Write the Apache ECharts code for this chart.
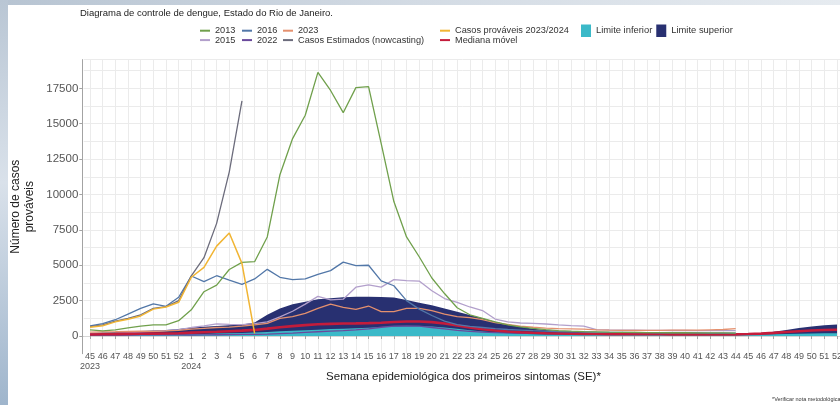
<!DOCTYPE html>
<html>
<head>
<meta charset="utf-8">
<script src="https://cdn.jsdelivr.net/npm/echarts@6/dist/echarts.min.js"></script>
<style>
  html, body { margin: 0; padding: 0; background: #ffffff; }
  #chart { width: 840px; height: 405px; }
</style>
</head>
<body>
<div id="chart"></div>
<script>
// Epidemiological weeks shown on the x axis: 45-52 of 2023, then 1-52 of 2024
const weekKeys = [
  '2023-45','2023-46','2023-47','2023-48','2023-49','2023-50','2023-51','2023-52',
  '2024-1','2024-2','2024-3','2024-4','2024-5','2024-6','2024-7','2024-8','2024-9','2024-10',
  '2024-11','2024-12','2024-13','2024-14','2024-15','2024-16','2024-17','2024-18','2024-19','2024-20',
  '2024-21','2024-22','2024-23','2024-24','2024-25','2024-26','2024-27','2024-28','2024-29','2024-30',
  '2024-31','2024-32','2024-33','2024-34','2024-35','2024-36','2024-37','2024-38','2024-39','2024-40',
  '2024-41','2024-42','2024-43','2024-44','2024-45','2024-46','2024-47','2024-48','2024-49','2024-50',
  '2024-51','2024-52'
];

// Y axis tick labels
const yTickValues = [0, 2500, 5000, 7500, 10000, 12500, 15000, 17500];

// Control band (week 45/2023 .. week 52/2024)
const limiteSuperior = [
  220, 250, 280, 320, 360, 390, 430, 500,
  600, 660, 710, 760, 820, 950, 1500, 1950, 2250, 2420, 2600, 2660,
  2730, 2780, 2780, 2750, 2720, 2550, 2350, 2180, 1950, 1720,
  1480, 1250, 1000, 800, 650, 520, 420, 350, 300, 260,
  230, 210, 200, 190, 180, 175, 170, 165, 160, 155,
  150, 150, 170, 220, 300, 420, 560, 680, 760, 820
];
const limiteInferior = [
  50, 55, 60, 70, 80, 90, 100, 110,
  130, 150, 170, 190, 220, 250, 290, 330, 370, 410, 450, 490,
  520, 550, 590, 630, 670, 690, 690, 670, 610, 510,
  410, 320, 250, 200, 160, 130, 110, 100, 90, 85,
  80, 80, 75, 75, 70, 70, 70, 70, 70, 70,
  70, 70, 80, 100, 120, 140, 160, 175, 190, 200
];
const medianaMovel = [
  110, 120, 130, 150, 160, 170, 180, 200,
  240, 270, 300, 340, 380, 430, 520, 620, 700, 770, 830, 860,
  880, 890, 910, 940, 990, 1030, 1030, 980, 880, 740,
  600, 480, 390, 320, 270, 230, 200, 180, 160, 150,
  140, 135, 130, 125, 120, 120, 115, 115, 110, 110,
  110, 115, 140, 170, 220, 280, 340, 390, 420, 440
];

// Past seasons (week 45 .. week 44)
const s2013 = [
  430, 360, 440, 580, 700, 780, 780, 1080,
  1850, 3130, 3600, 4700, 5200, 5250, 7000, 11400, 13950, 15600, 18630, 17350,
  15780, 17550, 17620, 13600, 9500, 7000, 5600, 4100, 3000, 2000,
  1500, 1250, 1000, 780, 650, 540, 450, 380, 340, 310,
  290, 270, 260, 250, 240, 240, 230, 230, 220, 220,
  220, 210
];
const s2015 = [
  150, 170, 200, 240, 280, 320, 380, 450,
  600, 720, 860, 820, 800, 880, 1000, 1350, 1750, 2250, 2800, 2550,
  2600, 3450, 3620, 3450, 3980, 3920, 3880, 3200, 2650, 2380,
  2050, 1800, 1200, 1000, 920, 890, 850, 780, 730, 700,
  450, 430, 420, 410, 400, 400, 390, 390, 380, 380,
  380, 380
];
const s2016 = [
  720, 870, 1150, 1550, 1950, 2270, 2100, 2740,
  4240, 3840, 4260, 3950, 3650, 4030, 4710, 4150, 3980, 4030, 4350, 4620,
  5220, 4970, 5000, 3900, 3550, 2500, 1900, 1450, 1050, 800,
  680, 600, 520, 460, 420, 380, 350, 320, 300, 290,
  270, 260, 250, 240, 240, 230, 230, 220, 220, 210,
  210, 200
];
const s2022 = [
  60, 60, 70, 70, 80, 80, 80, 80,
  70, 80, 90, 100, 110, 120, 140, 170, 200, 250, 300, 340,
  380, 430, 500, 620, 700, 720, 700, 600, 500, 400,
  330, 280, 240, 220, 200, 190, 180, 170, 165, 160,
  160, 160, 160, 160, 160, 160, 160, 160, 160, 160,
  160, 160
];
const s2023 = [
  280, 290, 300, 320, 340, 330, 360, 400,
  480, 540, 600, 630, 700, 780, 900, 1250, 1370, 1600, 1950, 2250,
  2030, 1880, 2120, 1720, 1720, 1950, 1950, 1790, 1550, 1370,
  1300, 1150, 950, 820, 700, 620, 560, 520, 500, 480,
  430, 410, 400, 390, 400, 400, 410, 410, 420, 440,
  460, 520
];

// Current season
const casosEstimados = [660, 780, 1050, 1250, 1500, 1950, 2080, 2500, 4250, 5530, 7960, 11600, 16620];
const casosProvaveis = [620, 720, 1000, 1180, 1420, 1900, 2050, 2380, 4150, 4850, 6350, 7280, 5130, 190];

const FONT = '"Liberation Sans", Arial, Helvetica, sans-serif';
const GRID_COLOR = '#ebebeb';

function lineSeries(name, data, color, width) {
  return {
    name, type: 'line', data, symbol: 'none', smooth: false,
    lineStyle: { color, width },
    itemStyle: { color },
    emphasis: { disabled: true },
    silent: true
  };
}
function bandSeries(name, data, color) {
  return {
    name, type: 'line', data, symbol: 'none',
    lineStyle: { width: 0, color },
    itemStyle: { color },
    areaStyle: { color, opacity: 1 },
    emphasis: { disabled: true },
    silent: true
  };
}

const chart = echarts.init(document.getElementById('chart'), null, { renderer: 'canvas' });

const legendLine = {
  orient: 'vertical', icon: 'rect', itemWidth: 10, itemHeight: 2, itemGap: 0, padding: 0,
  top: 26, selectedMode: false,
  textStyle: { fontFamily: FONT, fontSize: 9.2, color: '#333', lineHeight: 9.4 }
};

chart.setOption({
  animation: false,
  backgroundColor: '#ffffff',
  textStyle: { fontFamily: FONT },
  title: {
    text: 'Diagrama de controle de dengue, Estado do Rio de Janeiro.',
    left: 80, top: 8, padding: 0,
    textStyle: { fontFamily: FONT, fontSize: 9.5, fontWeight: 'normal', color: '#222' }
  },
  legend: [
    Object.assign({}, legendLine, { left: 200, data: ['2013', '2015'] }),
    Object.assign({}, legendLine, { left: 242, data: ['2016', '2022'] }),
    Object.assign({}, legendLine, { left: 283, data: ['2023', 'Casos Estimados (nowcasting)'] }),
    Object.assign({}, legendLine, { left: 440, data: ['Casos prováveis 2023/2024', 'Mediana móvel'] }),
    {
      orient: 'horizontal', icon: 'rect', itemWidth: 10, itemHeight: 12.5, itemGap: 4, padding: 0,
      left: 581, top: 24.5, selectedMode: false,
      textStyle: { fontFamily: FONT, fontSize: 9.4, color: '#333' },
      data: ['Limite inferior', 'Limite superior']
    }
  ],
  grid: { left: 83.7, top: 59.6, width: 759.6, height: 294.1, outerBoundsMode: 'none', containLabel: false },
  xAxis: [{
    type: 'category',
    data: weekKeys,
    boundaryGap: true,
    offset: -4.7,
    axisLine: { show: true, lineStyle: { color: '#a3a3a3', width: 1 } },
    axisTick: { show: true, alignWithLabel: true, length: 3, lineStyle: { color: '#a3a3a3' } },
    axisLabel: {
      interval: 0, margin: 3, fontSize: 9, lineHeight: 9.5, color: '#555', fontFamily: FONT,
      formatter: function (value, index) {
        const parts = value.split('-');
        return (index === 0 || parts[1] === '1') ? parts[1] + '\n' + parts[0] : parts[1];
      }
    },
    splitLine: { show: true, alignWithLabel: true, lineStyle: { color: GRID_COLOR, width: 1 } },
    name: 'Semana epidemiológica dos primeiros sintomas (SE)*',
    nameLocation: 'middle', nameGap: 22, nameMoveOverlap: false,
    nameTextStyle: { fontFamily: FONT, fontSize: 11.5, color: '#222' }
  }, {
    type: 'category',
    data: weekKeys,
    position: 'top',
    axisLine: { show: true, lineStyle: { color: '#d6d6d6', width: 1 } },
    axisTick: { show: false },
    axisLabel: { show: false },
    splitLine: { show: false }
  }],
  yAxis: [{
    type: 'value',
    min: -1250, max: 19530, interval: 1250,
    offset: 1.4,
    axisLine: { show: true, lineStyle: { color: '#a3a3a3', width: 1 } },
    axisTick: { show: true, length: 3, customValues: yTickValues, lineStyle: { color: '#a3a3a3' } },
    axisLabel: {
      margin: 4, fontSize: 11.5, color: '#555', fontFamily: FONT,
      customValues: yTickValues,
      formatter: function (v) { return String(v); }
    },
    splitLine: { show: true, showMinLine: false, lineStyle: { color: GRID_COLOR, width: 1 } },
    name: 'Número de casos\nprováveis',
    nameLocation: 'middle', nameRotate: 90, nameGap: 46, nameMoveOverlap: false,
    nameTextStyle: { fontFamily: FONT, fontSize: 12, color: '#222', lineHeight: 14, align: 'center' }
  }, {
    // lighter in-between gridlines (every 1250 cases)
    type: 'value',
    position: 'right',
    min: -1250, max: 19530, interval: 1250,
    axisLine: { show: false },
    axisTick: { show: false },
    axisLabel: { show: false },
    splitLine: { show: true, showMinLine: false, lineStyle: { color: GRID_COLOR, width: 1 } }
  }],
  series: [
    bandSeries('Limite superior', limiteSuperior, '#283071'),
    bandSeries('Limite inferior', limiteInferior, '#3bb9c8'),
    lineSeries('2022', s2022, '#6a4a9c', 1.3),
    lineSeries('2015', s2015, '#b29fcb', 1.3),
    lineSeries('2023', s2023, '#e4906e', 1.3),
    lineSeries('Mediana móvel', medianaMovel, '#c41c3b', 2.6),
    lineSeries('2016', s2016, '#5277a8', 1.3),
    lineSeries('2013', s2013, '#70a04c', 1.3),
    lineSeries('Casos Estimados (nowcasting)', casosEstimados, '#6c6c7c', 1.3),
    lineSeries('Casos prováveis 2023/2024', casosProvaveis, '#f1b534', 1.5)
  ],
  graphic: [
    {
      type: 'rect', left: 0, top: 0, z: 100, silent: true,
      shape: { width: 840, height: 5 },
      style: { fill: new echarts.graphic.LinearGradient(0, 0, 1, 0, [
        { offset: 0, color: '#b7c4d2' }, { offset: 0.5, color: '#d3dbe4' }, { offset: 1, color: '#e6ebf0' }
      ]) }
    },
    {
      type: 'rect', left: 0, top: 0, z: 100, silent: true,
      shape: { width: 8, height: 405 },
      style: { fill: new echarts.graphic.LinearGradient(0, 0, 0, 1, [
        { offset: 0, color: '#b9c6d4' }, { offset: 0.45, color: '#d9e1ea' }, { offset: 1, color: '#9fb5cc' }
      ]) }
    },
    {
      type: 'text', left: 772, top: 396, z: 100, silent: true,
      style: { text: '*Verificar nota metodológica', fontFamily: FONT, fontSize: 5.5, fill: '#333' }
    }
  ]
});
</script>
</body>
</html>
